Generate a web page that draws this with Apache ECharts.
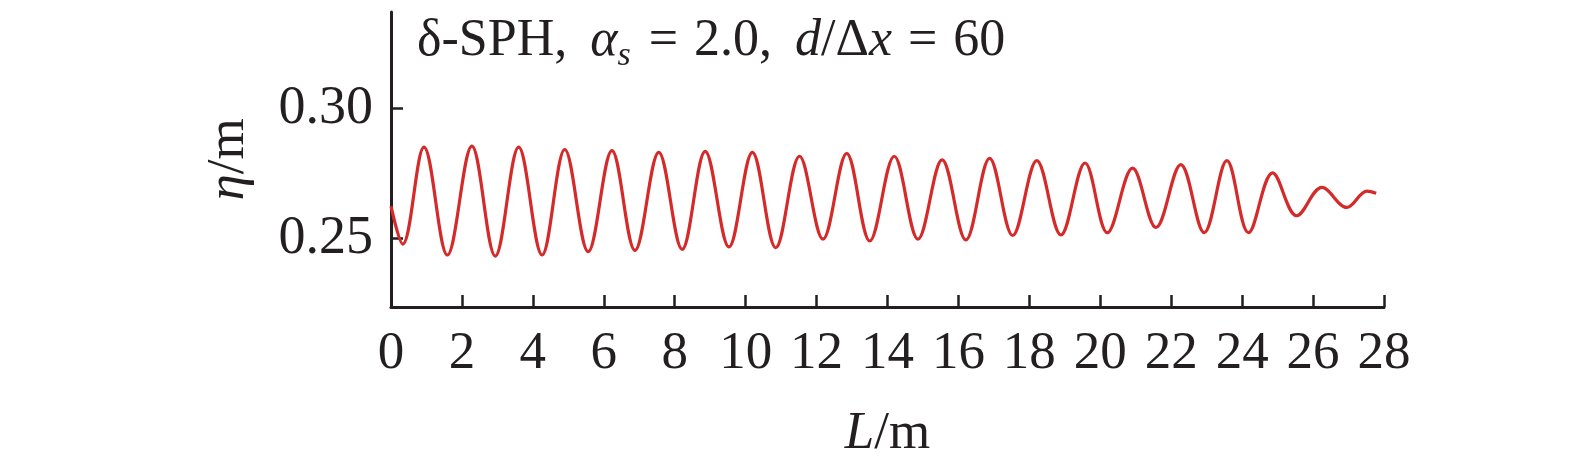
<!DOCTYPE html>
<html>
<head>
<meta charset="utf-8">
<script src="https://cdn.jsdelivr.net/npm/echarts@6/dist/echarts.min.js"></script>
<style>
html,body{margin:0;padding:0;background:#fff;}
#chart{width:1575px;height:472px;}
</style>
</head>
<body>
<div id="chart"></div>
<script>
// Data (L in m, eta in m)
const L = [0, 0.33, 0.93, 1.59, 2.28, 2.94, 3.60, 4.26, 4.90, 5.56, 6.23, 6.88, 7.55, 8.21, 8.86, 9.53, 10.19, 10.85, 11.52, 12.18, 12.85, 13.50, 14.19, 14.86, 15.54, 16.21, 16.88, 17.53, 18.21, 18.89, 19.57, 20.20, 20.91, 21.57, 22.27, 22.93, 23.57, 24.18, 24.86, 25.54, 26.25, 26.95, 27.52, 27.78];
const eta = [0.2625, 0.2479, 0.2852, 0.2437, 0.2856, 0.2433, 0.2852, 0.2437, 0.2843, 0.2450, 0.2839, 0.2455, 0.2832, 0.2459, 0.2836, 0.2468, 0.2832, 0.2465, 0.2817, 0.2498, 0.2828, 0.2491, 0.2817, 0.2498, 0.2803, 0.2495, 0.2809, 0.2512, 0.2800, 0.2514, 0.2791, 0.2523, 0.2771, 0.2543, 0.2785, 0.2523, 0.2800, 0.2523, 0.2753, 0.2588, 0.2697, 0.2620, 0.2683, 0.2675];
const xTicks = [0, 2, 4, 6, 8, 10, 12, 14, 16, 18, 20, 22, 24, 26, 28];
const yTicks = [0.25, 0.30];

const FONT = '"Liberation Serif", "Times New Roman", serif';
const INK = '#231f20';
const TS = 52;
const chart = echarts.init(document.getElementById('chart'), null, {renderer: 'canvas'});
chart.setOption({
  backgroundColor: '#fff',
  animation: false,
  title: {
    text: '{c|δ-SPH,}{n| }{i|α}{sub|s}{n| }{e|=}{n| }{c|2.0,}{n| }{i|d}{n|/Δ}{i|x}{n| }{e|=}{n| 60}',
    left: 412, top: 4,
    textStyle: {
      fontFamily: FONT, color: INK, fontSize: TS, fontWeight: 'normal',
      rich: {
        n: {fontFamily: FONT, fontSize: TS, fontWeight: 'normal', color: INK},
        e: {fontFamily: FONT, fontSize: TS, fontWeight: 'normal', color: INK, padding: [0, 3, 0, 3]},
        c: {fontFamily: FONT, fontSize: TS, fontWeight: 'normal', color: INK, padding: [0, 10, 0, 0]},
        i: {fontFamily: FONT, fontSize: TS, fontStyle: 'italic', fontWeight: 'normal', color: INK},
        sub: {fontFamily: FONT, fontSize: 34, fontStyle: 'italic', fontWeight: 'normal', color: INK, padding: [30, 2, 0, 0]}
      }
    }
  },
  grid: {left: 391, right: 191, top: 12, bottom: 165, containLabel: false},
  xAxis: {
    type: 'value', min: 0, max: 28,
    name: '{i|L}{n|/m}', nameLocation: 'middle', nameGap: 101,
    nameTextStyle: {
      rich: {
        i: {fontFamily: FONT, fontSize: 53, fontStyle: 'italic', color: INK},
        n: {fontFamily: FONT, fontSize: 53, color: INK}
      }
    },
    axisLine: {show: true, onZero: false, lineStyle: {color: INK, width: 3}},
    axisTick: {show: true, inside: true, length: 12, lineStyle: {color: INK, width: 2.5}, customValues: xTicks},
    axisLabel: {fontFamily: FONT, fontSize: 53, color: INK, margin: 21, customValues: xTicks},
    splitLine: {show: false}
  },
  yAxis: {
    type: 'value', min: 0.2237, max: 0.3372,
    name: '{i|η}{n|/m}', nameLocation: 'middle', nameGap: 135, nameRotate: 90,
    nameTextStyle: {
      rich: {
        i: {fontFamily: FONT, fontSize: 53, fontStyle: 'italic', color: INK},
        n: {fontFamily: FONT, fontSize: 53, color: INK}
      }
    },
    axisLine: {show: true, onZero: false, lineStyle: {color: INK, width: 3}},
    axisTick: {show: true, inside: true, length: 12, lineStyle: {color: INK, width: 2.5}, customValues: yTicks},
    axisLabel: {fontFamily: FONT, fontSize: 54, color: INK, margin: 18, customValues: yTicks,
      formatter: v => v.toFixed(2)},
    splitLine: {show: false}
  },
  series: [{
    type: 'line',
    data: L.map((x, i) => [x, eta[i]]),
    showSymbol: false,
    smooth: 0.36,
    lineStyle: {color: '#d42a2a', width: 3.2},
    itemStyle: {color: '#d42a2a'}
  }]
});
</script>
</body>
</html>
